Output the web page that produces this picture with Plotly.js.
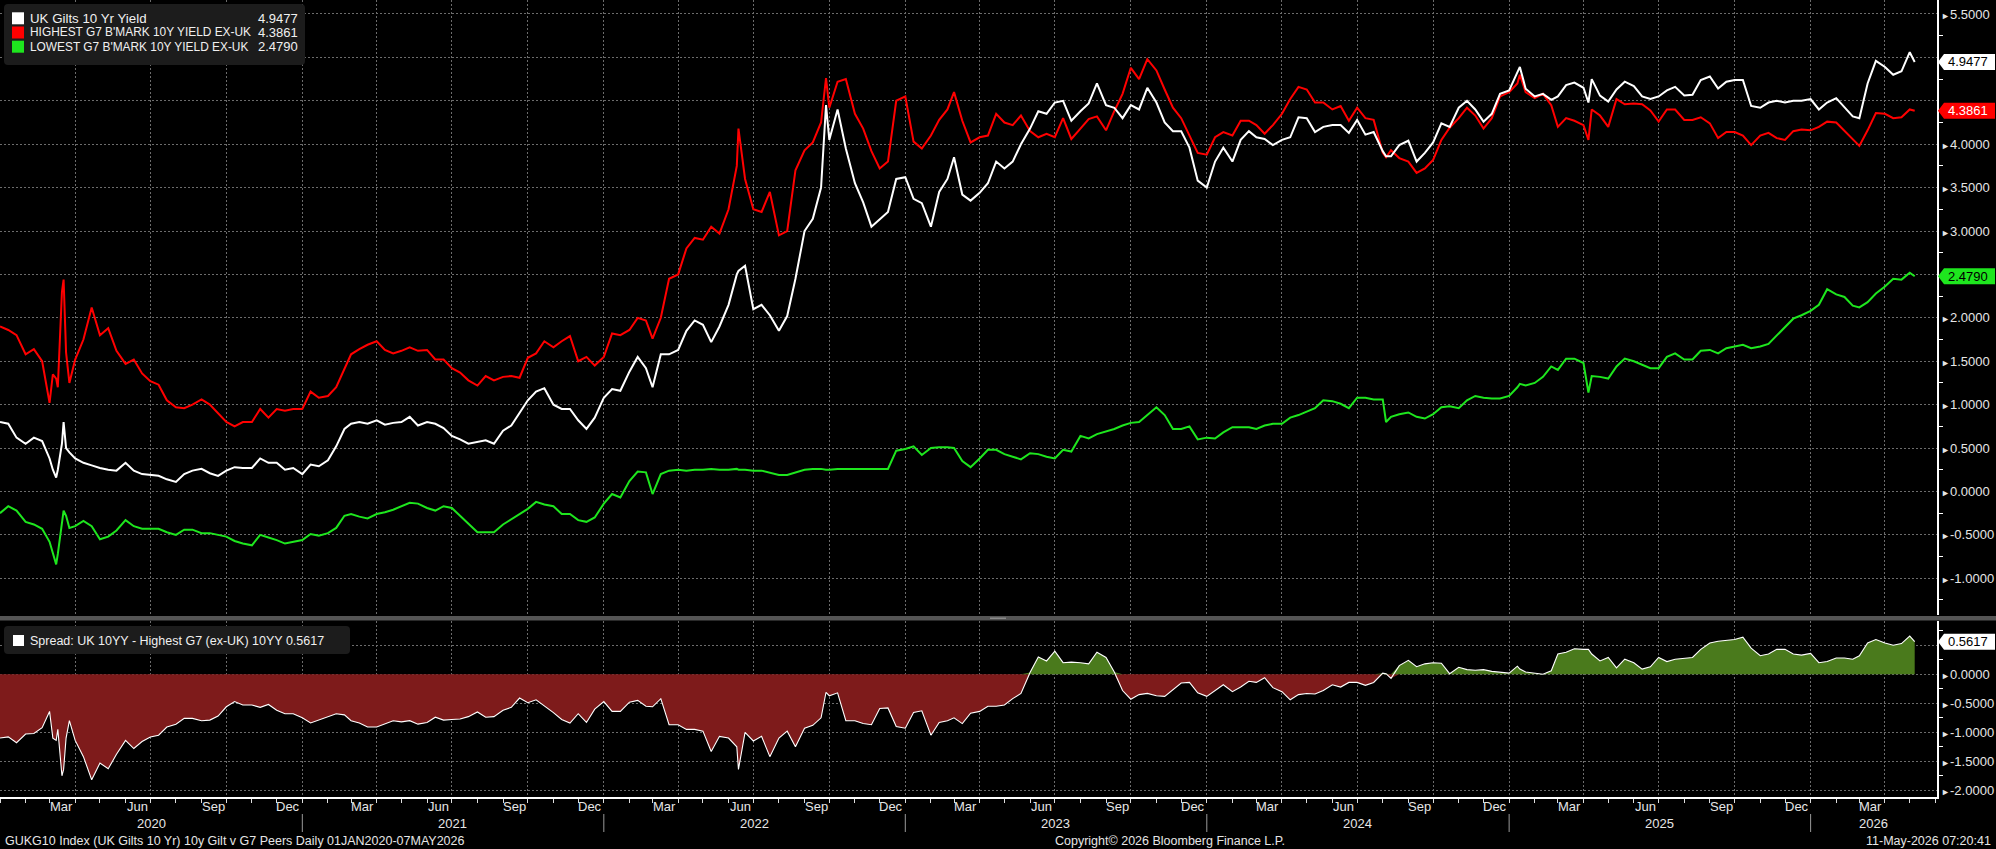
<!DOCTYPE html>
<html><head><meta charset="utf-8">
<script src="https://cdn.plot.ly/plotly-3.0.1.min.js"></script>
<style>html,body{margin:0;padding:0;background:#000;overflow:hidden}#chart{width:1996px;height:849px}</style>
</head><body><div id="chart"></div>
<script>
// ---------------- DATA ----------------
const dates = [
'2020-01-01','2020-01-11','2020-01-21','2020-02-01','2020-02-11','2020-02-21','2020-03-01','2020-03-05','2020-03-09','2020-03-11','2020-03-16','2020-03-18','2020-03-21','2020-03-25','2020-04-01','2020-04-11','2020-04-21','2020-05-01','2020-05-11','2020-05-21','2020-06-01','2020-06-11','2020-06-21','2020-07-01','2020-07-11','2020-07-21','2020-08-01','2020-08-11','2020-08-21','2020-09-01','2020-09-11','2020-09-21','2020-10-01','2020-10-11','2020-10-21','2020-11-01','2020-11-11','2020-11-21','2020-12-01','2020-12-11','2020-12-21',
'2021-01-01','2021-01-11','2021-01-21','2021-02-01','2021-02-11','2021-02-21','2021-03-01','2021-03-11','2021-03-21','2021-04-01','2021-04-11','2021-04-21','2021-05-01','2021-05-11','2021-05-21','2021-06-01','2021-06-11','2021-06-21','2021-07-01','2021-07-11','2021-07-21','2021-08-01','2021-08-11','2021-08-21','2021-09-01','2021-09-11','2021-09-21','2021-10-01','2021-10-11','2021-10-21','2021-11-01','2021-11-11','2021-11-21','2021-12-01','2021-12-11','2021-12-21',
'2022-01-01','2022-01-11','2022-01-21','2022-02-01','2022-02-11','2022-02-21','2022-03-01','2022-03-11','2022-03-21','2022-04-01','2022-04-11','2022-04-21','2022-05-01','2022-05-11','2022-05-21','2022-06-01','2022-06-11','2022-06-13','2022-06-21','2022-07-01','2022-07-11','2022-07-21','2022-08-01','2022-08-11','2022-08-21','2022-09-01','2022-09-11','2022-09-21','2022-09-27','2022-10-01','2022-10-11','2022-10-21','2022-11-01','2022-11-11','2022-11-21','2022-12-01','2022-12-11','2022-12-21',
'2023-01-01','2023-01-11','2023-01-21','2023-02-01','2023-02-11','2023-02-21','2023-03-01','2023-03-11','2023-03-21','2023-04-01','2023-04-11','2023-04-21','2023-05-01','2023-05-11','2023-05-21','2023-06-01','2023-06-11','2023-06-21','2023-07-01','2023-07-11','2023-07-21','2023-08-01','2023-08-11','2023-08-21','2023-09-01','2023-09-11','2023-09-21','2023-10-01','2023-10-11','2023-10-21','2023-11-01','2023-11-11','2023-11-21','2023-12-01','2023-12-11','2023-12-21',
'2024-01-01','2024-01-11','2024-01-21','2024-02-01','2024-02-11','2024-02-21','2024-03-01','2024-03-11','2024-03-21','2024-04-01','2024-04-11','2024-04-21','2024-05-01','2024-05-11','2024-05-21','2024-06-01','2024-06-11','2024-06-21','2024-07-01','2024-07-11','2024-07-21','2024-08-01','2024-08-05','2024-08-11','2024-08-21','2024-09-01','2024-09-11','2024-09-21','2024-10-01','2024-10-11','2024-10-21','2024-11-01','2024-11-11','2024-11-21','2024-12-01','2024-12-11','2024-12-21',
'2025-01-01','2025-01-11','2025-01-14','2025-01-21','2025-02-01','2025-02-11','2025-02-21','2025-03-01','2025-03-11','2025-03-21','2025-04-01','2025-04-07','2025-04-11','2025-04-21','2025-05-01','2025-05-11','2025-05-21','2025-06-01','2025-06-11','2025-06-21','2025-07-01','2025-07-11','2025-07-21','2025-08-01','2025-08-11','2025-08-21','2025-09-01','2025-09-11','2025-09-21','2025-10-01','2025-10-11','2025-10-21','2025-11-01','2025-11-11','2025-11-21','2025-12-01','2025-12-11','2025-12-21',
'2026-01-01','2026-01-11','2026-01-21','2026-02-01','2026-02-11','2026-02-21','2026-03-01','2026-03-11','2026-03-21','2026-04-01','2026-04-11','2026-04-21','2026-05-01','2026-05-07'
];

// UK Gilts 10 Yr Yield
const ukGilt10y = [
0.80,0.78,0.62,0.55,0.62,0.58,0.38,0.25,0.16,0.25,0.55,0.80,0.50,0.45,0.38,0.33,0.30,0.27,0.25,0.24,0.33,0.24,0.20,0.19,0.18,0.14,0.11,0.20,0.24,0.26,0.21,0.18,0.24,0.28,0.27,0.27,0.38,0.33,0.33,0.25,0.27,
0.20,0.31,0.29,0.36,0.52,0.72,0.78,0.80,0.78,0.82,0.77,0.79,0.80,0.86,0.76,0.80,0.78,0.73,0.64,0.60,0.55,0.57,0.59,0.55,0.70,0.76,0.90,1.05,1.15,1.19,1.00,0.95,0.95,0.82,0.72,0.85,
1.08,1.18,1.16,1.38,1.55,1.42,1.20,1.58,1.58,1.63,1.85,1.97,1.92,1.72,1.90,2.15,2.50,2.54,2.60,2.10,2.15,2.03,1.85,2.02,2.45,3.00,3.14,3.50,4.45,4.05,4.40,3.95,3.55,3.33,3.05,3.13,3.22,3.60,
3.62,3.37,3.32,3.05,3.45,3.60,3.85,3.42,3.35,3.44,3.55,3.80,3.72,3.80,4.00,4.18,4.38,4.35,4.48,4.50,4.27,4.38,4.47,4.70,4.45,4.42,4.30,4.45,4.40,4.65,4.48,4.25,4.15,4.15,3.96,3.58,
3.50,3.80,3.96,3.80,4.05,4.15,4.08,4.06,3.99,4.05,4.08,4.31,4.30,4.14,4.20,4.22,4.22,4.13,4.28,4.11,4.14,3.92,3.86,3.86,3.99,4.04,3.80,3.90,4.02,4.24,4.20,4.42,4.50,4.40,4.26,4.35,4.58,
4.62,4.84,4.89,4.64,4.55,4.58,4.51,4.55,4.68,4.71,4.65,4.48,4.75,4.56,4.49,4.63,4.72,4.67,4.55,4.52,4.55,4.62,4.66,4.56,4.57,4.74,4.78,4.64,4.72,4.74,4.74,4.44,4.42,4.48,4.50,4.48,4.50,4.50,
4.52,4.40,4.48,4.53,4.43,4.32,4.30,4.70,4.96,4.89,4.80,4.84,5.06,4.9477
];

// Highest G7 benchmark 10Y yield ex-UK
const highestG7exUK = [
1.90,1.86,1.80,1.58,1.64,1.50,1.02,1.35,1.30,1.20,2.30,2.44,1.60,1.25,1.52,1.75,2.12,1.80,1.88,1.62,1.47,1.52,1.36,1.27,1.23,1.05,0.97,0.96,1.00,1.06,1.00,0.90,0.80,0.75,0.80,0.80,0.95,0.85,0.95,0.93,0.95,
0.95,1.15,1.08,1.10,1.20,1.42,1.58,1.64,1.69,1.73,1.63,1.59,1.62,1.66,1.62,1.63,1.52,1.52,1.42,1.37,1.28,1.22,1.33,1.28,1.32,1.33,1.31,1.54,1.59,1.73,1.66,1.73,1.79,1.50,1.55,1.45,
1.55,1.82,1.80,1.86,2.00,1.97,1.76,2.00,2.45,2.50,2.80,2.92,2.90,3.05,2.97,3.25,3.75,4.18,3.60,3.25,3.22,3.45,2.95,3.00,3.70,3.93,4.02,4.25,4.76,4.42,4.72,4.75,4.35,4.18,3.92,3.72,3.80,4.50,
4.55,4.03,3.95,4.10,4.28,4.40,4.60,4.27,4.02,4.08,4.10,4.35,4.25,4.22,4.33,4.15,4.08,4.12,4.08,4.30,4.06,4.18,4.29,4.32,4.16,4.38,4.58,4.88,4.75,4.98,4.85,4.63,4.42,4.30,4.10,3.90,
3.88,4.08,4.14,4.10,4.27,4.27,4.22,4.12,4.22,4.35,4.52,4.66,4.63,4.48,4.48,4.40,4.44,4.27,4.42,4.30,4.28,3.90,3.85,3.93,3.84,3.80,3.67,3.72,3.82,4.05,4.19,4.30,4.42,4.33,4.18,4.30,4.55,
4.60,4.70,4.80,4.60,4.53,4.58,4.45,4.20,4.30,4.27,4.22,4.05,4.40,4.33,4.20,4.52,4.46,4.47,4.46,4.39,4.26,4.40,4.40,4.28,4.28,4.31,4.24,4.07,4.14,4.14,4.10,3.99,4.10,4.13,4.07,4.05,4.15,4.17,
4.16,4.20,4.26,4.25,4.15,4.06,3.98,4.16,4.36,4.35,4.30,4.31,4.40,4.3861
];

// Lowest G7 benchmark 10Y yield ex-UK
const lowestG7exUK = [
-0.25,-0.17,-0.22,-0.35,-0.38,-0.43,-0.58,-0.70,-0.84,-0.72,-0.40,-0.22,-0.28,-0.42,-0.40,-0.34,-0.40,-0.55,-0.52,-0.45,-0.33,-0.40,-0.43,-0.43,-0.43,-0.47,-0.50,-0.44,-0.44,-0.48,-0.48,-0.50,-0.52,-0.57,-0.60,-0.62,-0.50,-0.53,-0.56,-0.60,-0.58,
-0.56,-0.49,-0.51,-0.48,-0.42,-0.28,-0.26,-0.29,-0.31,-0.26,-0.24,-0.21,-0.17,-0.13,-0.14,-0.19,-0.22,-0.17,-0.19,-0.28,-0.38,-0.47,-0.47,-0.47,-0.38,-0.32,-0.27,-0.20,-0.12,-0.15,-0.17,-0.26,-0.26,-0.33,-0.35,-0.30,
-0.14,-0.03,-0.07,0.12,0.23,0.22,-0.03,0.20,0.24,0.25,0.24,0.25,0.25,0.26,0.25,0.25,0.26,0.25,0.25,0.24,0.24,0.22,0.19,0.19,0.22,0.25,0.26,0.26,0.25,0.25,0.26,0.26,0.26,0.26,0.26,0.26,0.26,0.47,
0.49,0.52,0.42,0.50,0.51,0.51,0.50,0.35,0.28,0.38,0.48,0.48,0.43,0.40,0.37,0.44,0.43,0.40,0.38,0.48,0.46,0.64,0.61,0.66,0.69,0.72,0.76,0.79,0.80,0.88,0.97,0.88,0.72,0.72,0.75,0.60,
0.62,0.61,0.68,0.74,0.74,0.74,0.72,0.76,0.78,0.78,0.85,0.88,0.92,0.96,1.05,1.04,1.01,0.96,1.08,1.08,1.06,1.06,0.80,0.86,0.89,0.91,0.86,0.84,0.89,0.97,0.98,0.96,1.05,1.10,1.08,1.07,1.07,
1.10,1.20,1.24,1.22,1.25,1.32,1.44,1.40,1.53,1.53,1.48,1.14,1.33,1.32,1.30,1.44,1.53,1.50,1.46,1.42,1.42,1.55,1.59,1.52,1.52,1.62,1.63,1.59,1.65,1.67,1.69,1.65,1.67,1.70,1.80,1.90,1.99,2.03,
2.08,2.15,2.33,2.27,2.24,2.14,2.12,2.18,2.28,2.36,2.45,2.44,2.52,2.479
];

const lastUK = 4.9477, lastHigh = 4.3861, lastLow = 2.4790, lastSpread = 0.5617;

const seriesNames = ['UK Gilts 10 Yr Yield', "HIGHEST G7 B'MARK 10Y YIELD EX-UK", "LOWEST G7 B'MARK 10Y YIELD EX-UK"];
const spreadName = 'Spread: UK 10YY - Highest G7 (ex-UK) 10YY';
const monthLabels = ['Mar', 'Jun', 'Sep', 'Dec'];
const monthNumbers = ['03', '06', '09', '12'];
const yearLabels = ['2020', '2021', '2022', '2023', '2024', '2025', '2026'];
const topTicks = [-1.0, -0.5, 0.0, 0.5, 1.0, 1.5, 2.0, 2.5, 3.0, 3.5, 4.0, 4.5, 5.0, 5.5];
const bottomTicks = [-2.0, -1.5, -1.0, -0.5, 0.0, 0.5];
const footerLeft = 'GUKG10 Index (UK Gilts 10 Yr) 10y Gilt v G7 Peers Daily 01JAN2020-07MAY2026';
const footerMid = 'Copyright\u00A9 2026 Bloomberg Finance L.P.';
const footerRight = '11-May-2026 07:20:41';

// ---------------- derived ----------------
const spread = ukGilt10y.map((v, i) => +(v - highestG7exUK[i]).toFixed(4));
const spreadNeg = spread.map(v => Math.min(v, 0));
const spreadPos = spread.map(v => Math.max(v, 0));

// ---------------- layout helpers ----------------
const X_START = '2020-01-01', X_END = '2026-06-03';
const PW = 1937, PH = 797;                 // plot area in px
const px = v => v / PW;                    // px -> paper x
const py = v => 1 - v / PH;                // px -> paper y
const TOP_RANGE = [-1.423, 5.661], BOT_RANGE = [-2.116, 0.919];
const TOP_UNIT = 615 / (TOP_RANGE[1] - TOP_RANGE[0]);
const BOT_UNIT = 176 / (BOT_RANGE[1] - BOT_RANGE[0]);

const FONT = 'Liberation Sans, Arial, sans-serif';
const TXT = '#e6e6e6';
const GRID = '#6c6c6c';
const arrow = '<span style="font-size:9px">\u25BA</span>';

const traces = [
  {x: dates, y: spreadNeg, xaxis: 'x2', yaxis: 'y2', type: 'scatter', mode: 'lines', fill: 'tozeroy',
   fillcolor: '#7e1b1b', line: {width: 0}, hoverinfo: 'skip', showlegend: false},
  {x: dates, y: spreadPos, xaxis: 'x2', yaxis: 'y2', type: 'scatter', mode: 'lines', fill: 'tozeroy',
   fillcolor: '#4a7a1c', line: {width: 0}, hoverinfo: 'skip', showlegend: false},
  {x: dates, y: spread, xaxis: 'x2', yaxis: 'y2', type: 'scatter', mode: 'lines', name: spreadName,
   line: {color: '#ffffff', width: 1.1}, showlegend: false},
  {x: dates, y: lowestG7exUK, type: 'scatter', mode: 'lines', name: seriesNames[2],
   line: {color: '#1ee61e', width: 2}, showlegend: false},
  {x: dates, y: highestG7exUK, type: 'scatter', mode: 'lines', name: seriesNames[1],
   line: {color: '#ff0000', width: 2}, showlegend: false},
  {x: dates, y: ukGilt10y, type: 'scatter', mode: 'lines', name: seriesNames[0],
   line: {color: '#ffffff', width: 2}, showlegend: false}
];

const shapes = [];
const annotations = [];

// rounded rectangle (pixel box -> paper path)
function roundRect(x0, y0, x1, y1, r, fill) {
  const X = v => px(v), Y = v => py(v);
  const path = `M ${X(x0 + r)} ${Y(y0)} L ${X(x1 - r)} ${Y(y0)} Q ${X(x1)} ${Y(y0)} ${X(x1)} ${Y(y0 + r)} ` +
    `L ${X(x1)} ${Y(y1 - r)} Q ${X(x1)} ${Y(y1)} ${X(x1 - r)} ${Y(y1)} L ${X(x0 + r)} ${Y(y1)} ` +
    `Q ${X(x0)} ${Y(y1)} ${X(x0)} ${Y(y1 - r)} L ${X(x0)} ${Y(y0 + r)} Q ${X(x0)} ${Y(y0)} ${X(x0 + r)} ${Y(y0)} Z`;
  return {type: 'path', xref: 'paper', yref: 'paper', path, fillcolor: fill, line: {width: 0}, layer: 'above'};
}

// separator band between panels
shapes.push({type: 'rect', xref: 'paper', yref: 'paper', x0: 0, x1: px(1996), y0: py(620.5), y1: py(616),
  fillcolor: '#555555', line: {width: 0}, layer: 'above'});
shapes.push({type: 'rect', xref: 'paper', yref: 'paper', x0: px(990), x1: px(1006), y0: py(619), y1: py(617.5),
  fillcolor: '#8a8a8a', line: {width: 0}, layer: 'above'});

// top legend box
shapes.push(roundRect(4, 4, 305, 65, 4, '#1c1c1c'));
const legColors = ['#ffffff', '#ff0000', '#1ee61e'];
const legValues = [lastUK, lastHigh, lastLow];
const legSizes = [13.3, 11.9, 11.9];
const rowY = [18.3, 32.5, 46.7];
for (let i = 0; i < 3; i++) {
  shapes.push({type: 'rect', xref: 'paper', yref: 'paper', x0: px(12), x1: px(24), y0: py(rowY[i] + 6), y1: py(rowY[i] - 6),
    fillcolor: legColors[i], line: {width: 0}, layer: 'above'});
  annotations.push({xref: 'paper', yref: 'paper', x: px(28), y: py(rowY[i]), xanchor: 'left', yanchor: 'middle',
    text: seriesNames[i], showarrow: false, font: {family: FONT, size: legSizes[i], color: '#f0f0f0'}});
  annotations.push({xref: 'paper', yref: 'paper', x: px(299.5), y: py(rowY[i]), xanchor: 'right', yanchor: 'middle',
    text: legValues[i].toFixed(4), showarrow: false, font: {family: FONT, size: 13, color: '#f0f0f0'}});
}

// bottom legend box
shapes.push(roundRect(4, 626, 350, 654, 4, '#1c1c1c'));
shapes.push({type: 'rect', xref: 'paper', yref: 'paper', x0: px(13), x1: px(24), y0: py(646), y1: py(635),
  fillcolor: '#ffffff', line: {width: 0}, layer: 'above'});
annotations.push({xref: 'paper', yref: 'paper', x: px(28), y: py(640.5), xanchor: 'left', yanchor: 'middle',
  text: spreadName + ' ' + lastSpread.toFixed(4), showarrow: false, font: {family: FONT, size: 12.5, color: '#f0f0f0'}});

// right-hand last-value boxes
function valueBox(val, yref, unit, fill, textColor) {
  const h = 8 / unit;
  const x0 = px(1938), x1 = px(1944), x2 = px(1995);
  shapes.push({type: 'path', xref: 'paper', yref: yref,
    path: `M ${x0} ${val} L ${x1} ${val + h} L ${x2} ${val + h} L ${x2} ${val - h} L ${x1} ${val - h} Z`,
    fillcolor: fill, line: {width: 0}, layer: 'above'});
  annotations.push({xref: 'paper', yref: yref, x: px(1946), y: val, xanchor: 'left', yanchor: 'middle',
    text: val.toFixed(4), showarrow: false, font: {family: FONT, size: 13, color: textColor}});
}
valueBox(lastUK, 'y', TOP_UNIT, '#ffffff', '#000000');
valueBox(lastHigh, 'y', TOP_UNIT, '#ff0000', '#ffffff');
valueBox(lastLow, 'y', TOP_UNIT, '#1ee61e', '#000000');
valueBox(lastSpread, 'y2', BOT_UNIT, '#ffffff', '#000000');

// axis labels hidden under a last-value box (as the terminal does)
function tickTexts(ticks, lasts, unit) {
  return ticks.map(v => lasts.some(l => Math.abs(v - l) * unit < 11) ? '' : arrow + v.toFixed(4));
}

// x axis month + year labels, year separators
const endTime = new Date(X_END).getTime();
yearLabels.forEach((yr, yi) => {
  monthLabels.forEach((m, mi) => {
    const d = `${yr}-${monthNumbers[mi]}-15`;
    if (new Date(d).getTime() <= endTime) {
      annotations.push({xref: 'x2', yref: 'paper', x: d, y: py(806.5), xanchor: 'center', yanchor: 'middle',
        text: m, showarrow: false, font: {family: FONT, size: 13, color: TXT}});
    }
  });
  const s = new Date(`${yr}-01-01`).getTime();
  const e = Math.min(new Date(`${+yr + 1}-01-01`).getTime(), endTime);
  const mid = new Date((s + e) / 2).toISOString().slice(0, 10);
  annotations.push({xref: 'x2', yref: 'paper', x: mid, y: py(823), xanchor: 'center', yanchor: 'middle',
    text: yr, showarrow: false, font: {family: FONT, size: 13, color: TXT}});
  if (yi > 0) {
    shapes.push({type: 'line', xref: 'x2', yref: 'paper', x0: `${yr}-01-01`, x1: `${yr}-01-01`,
      y0: py(814), y1: py(832), line: {color: '#9a9a9a', width: 1}});
  }
});

// footer
annotations.push({xref: 'paper', yref: 'paper', x: px(3), y: py(841), xanchor: 'left', yanchor: 'middle',
  text: footerLeft, showarrow: false, font: {family: FONT, size: 12.5, color: TXT}});
annotations.push({xref: 'paper', yref: 'paper', x: px(1170), y: py(841), xanchor: 'center', yanchor: 'middle',
  text: footerMid, showarrow: false, font: {family: FONT, size: 12.5, color: TXT}});
annotations.push({xref: 'paper', yref: 'paper', x: px(1993), y: py(841), xanchor: 'right', yanchor: 'middle',
  text: footerRight, showarrow: false, font: {family: FONT, size: 12.5, color: TXT}});

const yCommon = {
  side: 'right', showgrid: true, gridcolor: GRID, griddash: '2px,2px', gridwidth: 1,
  zeroline: false, showline: true, linecolor: '#ffffff', linewidth: 1.5,
  ticks: '', tickmode: 'array', tickfont: {family: FONT, size: 13, color: TXT},
  minor: {tickmode: 'linear', tick0: 0.25, dtick: 0.5, ticks: 'outside', ticklen: 4, tickwidth: 1, tickcolor: '#ffffff', showgrid: false},
  fixedrange: true
};

const xCommon = {
  type: 'date', range: [X_START, X_END], tick0: X_START, dtick: 'M3',
  showgrid: true, gridcolor: GRID, griddash: '2px,2px', gridwidth: 1,
  zeroline: false, showticklabels: false, fixedrange: true
};

const layout = {
  width: 1996, height: 849,
  paper_bgcolor: '#000000', plot_bgcolor: '#000000',
  margin: {l: 0, r: 59, t: 0, b: 52, pad: 0},
  font: {family: FONT, color: TXT, size: 13},
  showlegend: false,
  xaxis: Object.assign({}, xCommon, {anchor: 'y', domain: [0, 1], ticks: '', showline: false, matches: 'x2'}),
  xaxis2: Object.assign({}, xCommon, {anchor: 'y2', domain: [0, 1], ticks: 'outside', ticklen: 4, tickcolor: '#dddddd',
    showline: true, linecolor: '#ffffff', linewidth: 1.5,
    minor: {dtick: 'M1', tick0: X_START, ticks: 'outside', ticklen: 4, tickwidth: 1, tickcolor: '#dddddd', showgrid: false}}),
  yaxis: Object.assign({}, yCommon, {anchor: 'x', domain: [1 - 615 / PH, 1], range: TOP_RANGE,
    tickvals: topTicks, ticktext: tickTexts(topTicks, [lastUK, lastHigh, lastLow], TOP_UNIT)}),
  yaxis2: Object.assign({}, yCommon, {anchor: 'x2', domain: [0, 1 - 621 / PH], range: BOT_RANGE,
    tickvals: bottomTicks, ticktext: tickTexts(bottomTicks, [lastSpread], BOT_UNIT)}),
  shapes: shapes,
  annotations: annotations
};

Plotly.newPlot('chart', traces, layout, {displayModeBar: false, staticPlot: true});
</script>
</body></html>
